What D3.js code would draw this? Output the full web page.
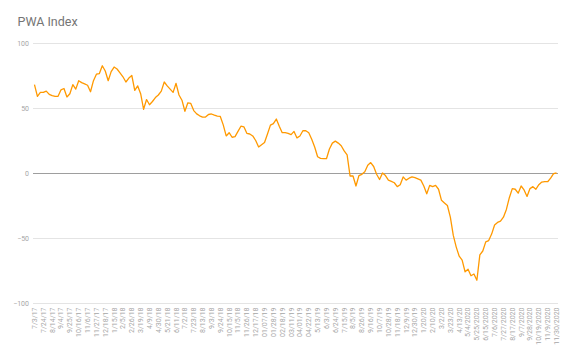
<!DOCTYPE html>
<html>
<head>
<meta charset="utf-8">
<script src="https://cdn.jsdelivr.net/npm/d3@7"></script>
<style>
  html, body { margin: 0; padding: 0; background: #ffffff; }
  svg { display: block; font-family: Roboto, "Noto Sans", Arial, sans-serif; }
</style>
</head>
<body>
<svg id="chart" width="575" height="360"></svg>
<script>
const title = "PWA Index";

const tickLabels = [
  "7/3/17","7/24/17","8/14/17","9/4/17","9/25/17","10/16/17","11/6/17","11/27/17","12/18/17",
  "1/15/18","2/5/18","2/26/18","3/19/18","4/9/18","4/30/18","5/21/18","6/11/18","7/2/18",
  "7/23/18","8/13/18","9/3/18","9/24/18","10/15/18","11/5/18","11/26/18","12/17/18",
  "01/07/19","01/28/19","02/18/19","03/11/19","04/01/19","04/22/19","5/13/19","6/3/19",
  "6/24/19","7/15/19","8/5/19","8/26/19","9/16/19","10/7/19","10/28/19","11/18/19","12/9/19",
  "12/30/19","1/20/20","2/10/20","3/2/20","3/23/20","4/13/20","5/4/2020","5/25/2020",
  "6/15/2020","7/6/2020","7/27/2020","8/17/2020","9/7/2020","9/28/2020","10/19/2020",
  "11/9/2020","11/30/2020"
];

const values = [
  68, 59, 62, 62, 63, 60.5, 59.5, 59, 59, 64,
  65, 58.5, 61, 68, 64.5, 71, 69.5, 68.5, 67.5, 62.5,
  71, 76, 76.5, 82.5, 78.5, 71, 78, 81.5, 80, 77,
  74, 70, 73, 75, 63.5, 67, 61, 49, 56.5, 52.5,
  55, 58, 60, 63, 70, 67, 64.5, 62, 69, 60,
  56, 47.5, 54, 53.5, 48, 45.5, 44, 43, 43, 45,
  45.4, 44.5, 43.8, 43.5, 37, 28.5, 31, 27.5, 28, 32,
  36, 35.5, 30.5, 30, 28.5, 25, 20, 21.8, 23.5, 30,
  36.8, 38, 41.5, 36, 31, 31, 30.5, 29.5, 32, 27,
  28.5, 32.5, 32.5, 31, 26, 20, 12.5, 11.3, 11, 11,
  18.5, 23, 24.5, 23, 21, 17, 14, -2.3, -2.3, -10,
  -2, -1, 1, 6, 8, 5, -1, -5, 0, -2,
  -5.5, -6.5, -7.5, -10.5, -9, -3, -5.5, -4, -3, -3.5,
  -4.5, -5.5, -10, -16, -9.5, -10.5, -9.5, -12.5, -21, -23,
  -25, -34, -48, -57, -64, -67, -76, -74, -79, -77.7,
  -82.5, -63, -60, -53, -52, -47, -40, -38, -37, -34,
  -28, -19, -12, -12.5, -15.5, -10, -13, -18, -12, -10.5,
  -12.5, -9, -7, -6.7, -6.7, -4, -0.5, 0
];

const yTicks = [-100, -50, 0, 50, 100];
const tickEvery = 3;

const svg = d3.select("#chart");
const W = 575, H = 360;
const margin = { left: 33, right: 17, top: 43, bottom: 57 };

const x = d3.scaleBand()
  .domain(d3.range(values.length))
  .range([margin.left, W - margin.right])
  .paddingInner(0).paddingOuter(0);

const y = d3.scaleLinear()
  .domain([-100, 100])
  .range([H - margin.bottom, margin.top]);

const cx = i => x(i) + x.bandwidth() / 2;

// title
svg.append("text")
  .attr("x", 17.5).attr("y", 26)
  .attr("fill", "#757575")
  .attr("font-size", 12.5)
  .text(title);

// gridlines + y labels via axis
const yAxis = d3.axisLeft(y).tickValues(yTicks).tickSize(-(W - margin.right - margin.left)).tickPadding(4);
const gy = svg.append("g").attr("transform", `translate(${margin.left},0)`).call(yAxis);
gy.select(".domain").remove();
gy.selectAll(".tick line")
  .attr("stroke", d => d === 0 ? "#9e9e9e" : "#e4e4e4")
  .attr("stroke-width", 1);
gy.selectAll(".tick text")
  .attr("fill", "#a6a6a6")
  .attr("font-size", 7)
  .attr("font-family", "Roboto, sans-serif");

// x labels
const xTickIdx = d3.range(0, values.length, tickEvery);
const xAxis = d3.axisBottom(x)
  .tickValues(xTickIdx)
  .tickSize(0)
  .tickFormat((d, k) => tickLabels[k]);
const gx = svg.append("g").attr("transform", `translate(0,${H - margin.bottom})`).call(xAxis);
gx.select(".domain").remove();
gx.selectAll(".tick text")
  .attr("fill", "#a6a6a6")
  .attr("font-size", 7)
  .attr("font-family", "Roboto, sans-serif")
  .attr("text-anchor", "end")
  .attr("transform", "rotate(-90)")
  .attr("x", -4.5)
  .attr("y", 0)
  .attr("dy", "0.35em");

// line
const line = d3.line()
  .x((d, i) => cx(i))
  .y(d => y(d));

svg.append("path")
  .datum(values)
  .attr("fill", "none")
  .attr("stroke", "#ff9900")
  .attr("stroke-width", 1.3)
  .attr("stroke-linejoin", "round")
  .attr("d", line);
</script>
</body>
</html>
